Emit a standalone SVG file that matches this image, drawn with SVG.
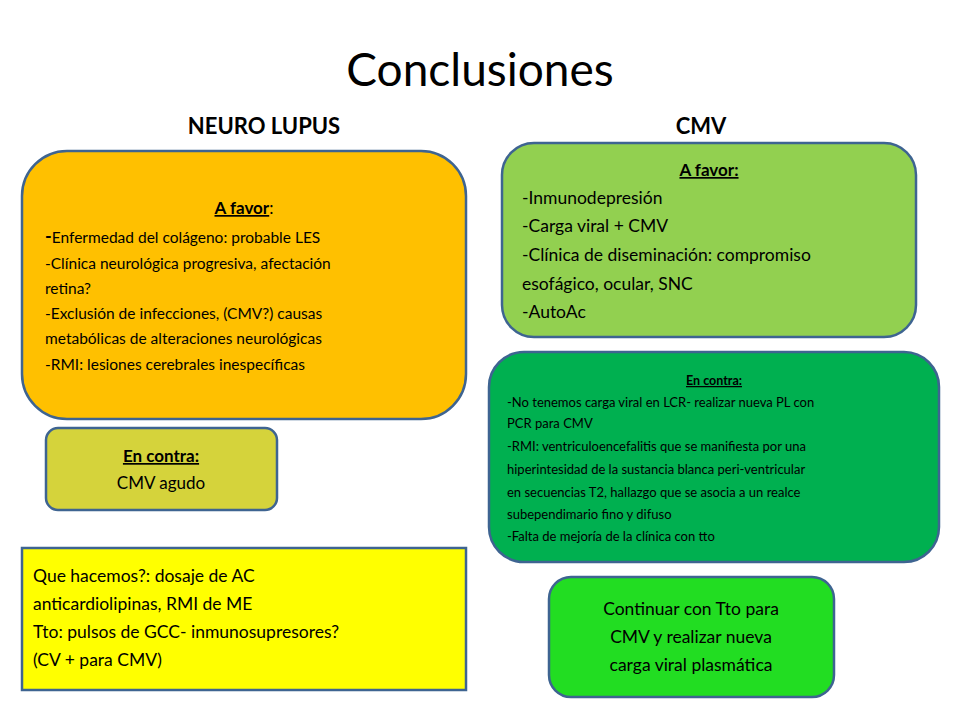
<svg xmlns="http://www.w3.org/2000/svg" width="960" height="720" viewBox="0 0 960 720">
<style>
text{font-family:Lato,"Open Sans","Liberation Sans",sans-serif;fill:#000}
.box{stroke:#3E6491;stroke-width:2.5}
.h{font-weight:bold;text-decoration:underline}
</style>
<rect width="960" height="720" fill="#fff"/>
<text x="480" y="86" font-size="46" text-anchor="middle">Conclusiones</text>
<text x="264" y="134" font-size="22" font-weight="bold" text-anchor="middle">NEURO LUPUS</text>
<text x="701" y="134" font-size="22" font-weight="bold" text-anchor="middle">CMV</text>
<g id="neuro-favor">
<rect class="box" x="22" y="151" width="444" height="268" rx="45" fill="#FFC000"/>
<text x="244" y="214" font-size="17" text-anchor="middle"><tspan class="h">A favor</tspan>:</text>
<text font-size="15.5"><tspan x="45" y="243"><tspan font-weight="bold" font-size="18">-</tspan>Enfermedad  del colágeno: probable LES</tspan><tspan x="45" y="269">-Clínica neurológica progresiva, afectación</tspan><tspan x="45" y="294">retina?</tspan><tspan x="45" y="319">-Exclusión de infecciones, (CMV?) causas</tspan><tspan x="45" y="344">metabólicas de alteraciones neurológicas</tspan><tspan x="45" y="370">-RMI: lesiones cerebrales inespecíficas</tspan></text>
</g>
<g id="neuro-contra">
<rect class="box" x="46" y="428" width="231" height="82" rx="12" fill="#D5D33B"/>
<text x="161" y="462" font-size="17" text-anchor="middle" class="h">En contra:</text>
<text x="161" y="489" font-size="17" text-anchor="middle">CMV  agudo</text>
</g>
<g id="neuro-que">
<rect class="box" x="22" y="548" width="444" height="142" fill="#FFFF00"/>
<text font-size="17.5"><tspan x="33" y="582">Que hacemos?: dosaje de AC</tspan><tspan x="33" y="610">anticardiolipinas, RMI de ME</tspan><tspan x="33" y="638">Tto: pulsos de GCC- inmunosupresores?</tspan><tspan x="33" y="666">(CV + para CMV)</tspan></text>
</g>
<g id="cmv-favor">
<rect class="box" x="502" y="143" width="414" height="194" rx="32" fill="#92D050"/>
<text x="709" y="176" font-size="17" text-anchor="middle" class="h">A favor:</text>
<text font-size="17.5"><tspan x="522" y="204">-Inmunodepresión</tspan><tspan x="522" y="232">-Carga viral + CMV</tspan><tspan x="522" y="261">-Clínica de diseminación: compromiso</tspan><tspan x="522" y="290">esofágico, ocular, SNC</tspan><tspan x="522" y="318">-AutoAc</tspan></text>
</g>
<g id="cmv-contra">
<rect class="box" x="489" y="352" width="450" height="210" rx="35" fill="#00B050"/>
<text x="714" y="385" font-size="12.5" text-anchor="middle" class="h">En contra:</text>
<text font-size="13"><tspan x="507" y="407">-No tenemos carga viral en LCR- realizar nueva PL con</tspan><tspan x="507" y="428">PCR para CMV</tspan><tspan x="507" y="451">-RMI: ventriculoencefalitis que  se manifiesta por una</tspan><tspan x="507" y="474">hiperintesidad de la sustancia blanca peri-ventricular</tspan><tspan x="507" y="497">en secuencias T2, hallazgo que se asocia a un realce</tspan><tspan x="507" y="519">subependimario fino y difuso</tspan><tspan x="507" y="541">-Falta de mejoría de la clínica con tto</tspan></text>
</g>
<g id="cmv-continuar">
<rect class="box" x="549" y="577" width="285" height="120" rx="22" fill="#22DD22"/>
<text font-size="17.5" text-anchor="middle"><tspan x="691" y="615">Continuar con Tto para</tspan><tspan x="691" y="643">CMV y realizar nueva</tspan><tspan x="691" y="671">carga viral plasmática</tspan></text>
</g>
<g id="connectors"/>
</svg>
